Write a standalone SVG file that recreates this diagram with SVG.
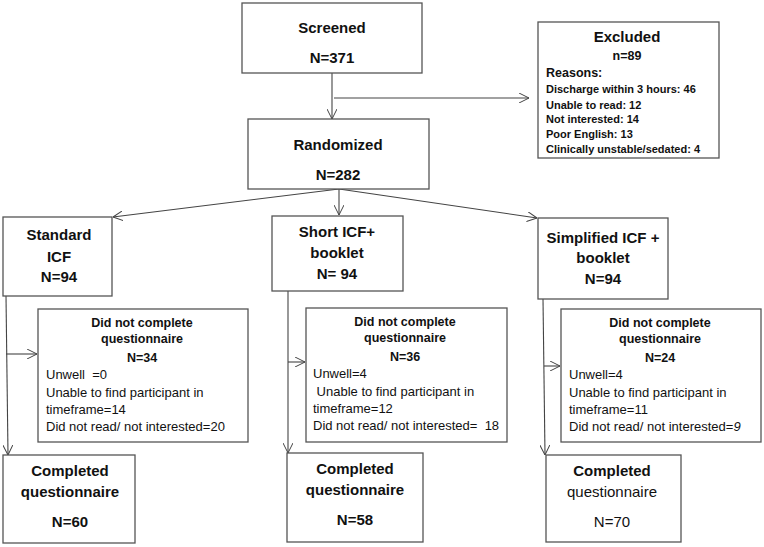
<svg xmlns="http://www.w3.org/2000/svg" width="764" height="547" viewBox="0 0 764 547">
<defs>
<marker id="ah" viewBox="0 0 10 10" refX="10" refY="5" markerWidth="10" markerHeight="10" markerUnits="userSpaceOnUse" orient="auto">
<path d="M0,0 L10,5 L0,10" fill="none" stroke="#444" stroke-width="1"/>
</marker>
<style>
rect{fill:#fff;stroke:#555;stroke-width:1.3}
text{font-family:"Liberation Sans",Arial,sans-serif;fill:#111}
.h{font-size:15px;font-weight:bold;text-anchor:middle}
.hr{font-size:15px;text-anchor:middle}
.s{font-size:12.5px;font-weight:bold;text-anchor:middle}
.e{font-size:11px;font-weight:bold}
.r{font-size:13px}
.c line{stroke:#444;stroke-width:1.1;fill:none;marker-end:url(#ah)}
</style>
</defs>
<rect x="0" y="0" width="764" height="547" style="fill:#fff;stroke:none"/>
<g class="c" id="connectors">
<line x1="332" y1="73" x2="332" y2="119"/>
<line x1="334" y1="98" x2="529" y2="98"/>
<line x1="339" y1="189" x2="113" y2="217"/>
<line x1="339" y1="189" x2="339" y2="215"/>
<line x1="339" y1="189" x2="537" y2="218"/>
<line x1="6" y1="296" x2="8" y2="455"/>
<line x1="6" y1="354" x2="37" y2="354"/>
<line x1="288" y1="291" x2="288" y2="453"/>
<line x1="288" y1="362" x2="305" y2="362"/>
<line x1="543" y1="299" x2="545" y2="455"/>
<line x1="544" y1="366" x2="560" y2="366"/>
</g>
<g id="screened">
<rect x="242" y="3" width="180" height="70"/>
<text class="h" x="332" y="33">Screened</text>
<text class="h" x="332" y="63">N=371</text>
</g>
<g id="excluded">
<rect x="538" y="22" width="181" height="136"/>
<text class="h" x="627" y="42">Excluded</text>
<text class="e" x="627" y="60" style="text-anchor:middle;font-size:12.5px">n=89</text>
<text class="e" x="546" y="77" style="font-size:12.5px">Reasons:</text>
<text class="e" x="546" y="93">Discharge within 3 hours: 46</text>
<text class="e" x="546" y="109">Unable to read: 12</text>
<text class="e" x="546" y="123">Not interested: 14</text>
<text class="e" x="546" y="138">Poor English: 13</text>
<text class="e" x="546" y="153">Clinically unstable/sedated: 4</text>
</g>
<g id="randomized">
<rect x="248" y="119" width="181" height="70"/>
<text class="h" x="338" y="150">Randomized</text>
<text class="h" x="338" y="180">N=282</text>
</g>
<g id="standard">
<rect x="3" y="217" width="109" height="79"/>
<text class="h" x="59" y="240">Standard</text>
<text class="h" x="59" y="262">ICF</text>
<text class="h" x="59" y="282">N=94</text>
</g>
<g id="short">
<rect x="272" y="216" width="131" height="75"/>
<text class="h" x="337" y="237">Short ICF+</text>
<text class="h" x="337" y="258">booklet</text>
<text class="h" x="337" y="279">N= 94</text>
</g>
<g id="simplified">
<rect x="538" y="218" width="130" height="81"/>
<text class="h" x="603" y="243">Simplified ICF +</text>
<text class="h" x="603" y="263">booklet</text>
<text class="h" x="603" y="284">N=94</text>
</g>
<g id="dnc1">
<rect x="38" y="309" width="210" height="133"/>
<text class="s" x="142" y="327">Did not complete</text>
<text class="s" x="142" y="343">questionnaire</text>
<text class="s" x="142" y="362">N=34</text>
<text class="r" x="46" y="379" xml:space="preserve">Unwell  =0</text>
<text class="r" x="46" y="397">Unable to find participant in</text>
<text class="r" x="46" y="414">timeframe=14</text>
<text class="r" x="46" y="431">Did not read/ not interested=20</text>
</g>
<g id="dnc2">
<rect x="306" y="308" width="201" height="134"/>
<text class="s" x="405" y="326">Did not complete</text>
<text class="s" x="405" y="342">questionnaire</text>
<text class="s" x="405" y="361">N=36</text>
<text class="r" x="313" y="378">Unwell=4</text>
<text class="r" x="313" y="396" xml:space="preserve"> Unable to find participant in</text>
<text class="r" x="313" y="413">timeframe=12</text>
<text class="r" x="313" y="430" xml:space="preserve">Did not read/ not interested=  18</text>
</g>
<g id="dnc3">
<rect x="561" y="309" width="200" height="133"/>
<text class="s" x="660" y="327">Did not complete</text>
<text class="s" x="660" y="343">questionnaire</text>
<text class="s" x="660" y="362">N=24</text>
<text class="r" x="569" y="379">Unwell=4</text>
<text class="r" x="569" y="397">Unable to find participant in</text>
<text class="r" x="569" y="414">timeframe=11</text>
<text class="r" x="569" y="431">Did not read/ not interested=<tspan font-style="italic">9</tspan></text>
</g>
<g id="comp1">
<rect x="3" y="455" width="132" height="88"/>
<text class="h" x="70" y="476">Completed</text>
<text class="h" x="70" y="497">questionnaire</text>
<text class="h" x="70" y="527">N=60</text>
</g>
<g id="comp2">
<rect x="287" y="453" width="136" height="89"/>
<text class="h" x="355" y="474">Completed</text>
<text class="h" x="355" y="495">questionnaire</text>
<text class="h" x="355" y="525">N=58</text>
</g>
<g id="comp3">
<rect x="546" y="455" width="135" height="87"/>
<text class="h" x="612" y="476">Completed</text>
<text class="hr" x="612" y="497">questionnaire</text>
<text class="hr" x="612" y="527">N=70</text>
</g>
</svg>
